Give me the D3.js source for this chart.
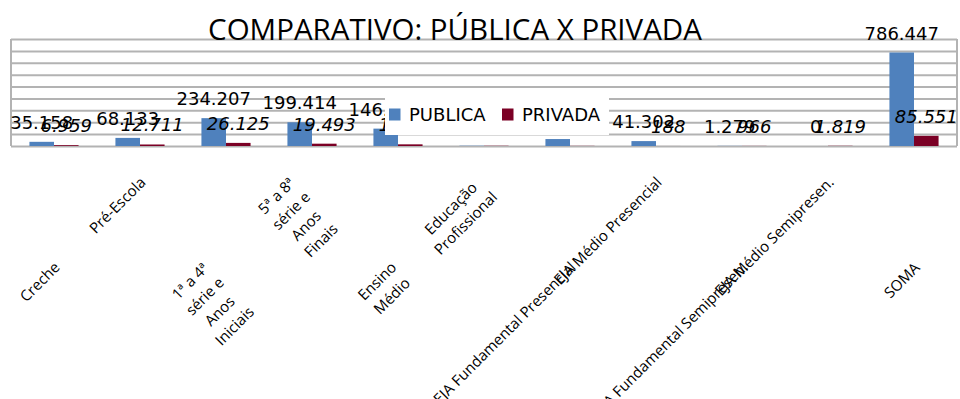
<!DOCTYPE html>
<html>
<head>
<meta charset="utf-8">
<title>Comparativo: Pública x Privada</title>
<script src="https://cdn.jsdelivr.net/npm/d3@7"></script>
<style>
	body { margin: 0; background: #fff; }
	svg { display: block; }
	.grid line { stroke: #b3b3b3; stroke-width: 2; }
	.grid .domain { display: none; }
	.value { font-family: "DejaVu Sans", sans-serif; font-size: 18px; fill: #000; }
	.value.privada { font-style: italic; }
	.cat { font-family: "Open Sans", sans-serif; font-size: 15px; fill: #000; }
	.title { font-family: "Open Sans", sans-serif; font-size: 29.5px; fill: #000; }
	.legend text { font-family: "DejaVu Sans", sans-serif; font-size: 18px; fill: #000; }
</style>
</head>
<body>
<svg width="960" height="399"></svg>
<script>
// Categories (line breaks as they were typed in the sheet cells)
const categories = [
	"Creche",
	"Pré-Escola",
	"1ª a 4ª\nsérie e\nAnos\nIniciais",
	"5ª a 8ª\nsérie e\nAnos\nFinais",
	"Ensino\nMédio",
	"Educação\nProfissional",
	"EJA Fundamental Presencial",
	"EJA Médio Presencial",
	"EJA Fundamental Semipresen.",
	"EJA Médio Semipresen.",
	"SOMA"
];
const seriesNames = ["PUBLICA", "PRIVADA"];
const publica = [35158, 68133, 234207, 199414, 146112, 2350, 58492, 41302, 1279, 0, 786447];
const privada = [6959, 12711, 26125, 19493, 13950, 2061, 1279, 188, 966, 1819, 85551];
const yTicks = [0, 100000, 200000, 300000, 400000, 500000, 600000, 700000, 800000, 900000];
const colors = ["#4f81bd", "#7b0025"];

document.addEventListener("DOMContentLoaded", function() {
	renderChart();
});

function renderChart() {
	const svg = d3.select("svg");
	const plot = { left: 11, right: 957, top: 39, bottom: 146 };

	// pt-BR number format: 786.447
	const locale = d3.formatLocale({ decimal: ",", thousands: ".", grouping: [3], currency: ["", ""] });
	const fmt = locale.format(",d");

	const rows = categories.map((c, i) => ({ cat: c, values: [publica[i], privada[i]] }));

	const x0 = d3.scaleBand()
				 .domain(categories)
				 .range([plot.left, plot.right]);

	// gap width 150% -> two bars of ~25px in the middle of each 86px band
	const gap = x0.bandwidth() * 1.5 / 3.5 / 2;
	const x1 = d3.scaleBand()
				 .domain(seriesNames)
				 .range([gap, x0.bandwidth() - gap]);

	const y = d3.scaleLinear()
				.domain([0, d3.max(yTicks)])
				.range([plot.bottom, plot.top]);

	// horizontal gridlines, no tick labels
	svg.append("g")
	   .attr("class", "grid")
	   .attr("transform", `translate(${plot.left}, 0)`)
	   .call(d3.axisLeft(y).tickValues(yTicks).tickSize(-(plot.right - plot.left)).tickFormat(""));

	// plot border (left / right)
	svg.append("g").attr("class", "grid")
	   .selectAll("line")
	   .data([plot.left, plot.right])
	   .enter().append("line")
	   .attr("x1", d => d).attr("x2", d => d)
	   .attr("y1", plot.top).attr("y2", plot.bottom);

	svg.append("text")
	   .attr("class", "title")
	   .attr("x", 455)
	   .attr("y", 40)
	   .attr("text-anchor", "middle")
	   .text("COMPARATIVO: PÚBLICA X PRIVADA");

	const groups = svg.append("g")
					  .selectAll("g")
					  .data(rows)
					  .enter()
					  .append("g")
					  .attr("transform", d => `translate(${x0(d.cat)}, 0)`);

	groups.selectAll("rect")
		  .data(d => d.values.map((v, k) => ({ key: seriesNames[k], value: v, k: k })))
		  .enter()
		  .append("rect")
		  .attr("x", d => x1(d.key))
		  .attr("y", d => y(d.value))
		  .attr("width", x1.bandwidth())
		  .attr("height", d => plot.bottom - y(d.value))
		  .attr("fill", d => colors[d.k]);

	// data labels: all PUBLICA first, then PRIVADA on top
	seriesNames.forEach((name, k) => {
		svg.append("g")
		   .selectAll("text")
		   .data(rows)
		   .enter()
		   .append("text")
		   .attr("class", "value " + name.toLowerCase())
		   .attr("text-anchor", "middle")
		   .attr("x", d => x0(d.cat) + x1(name) + x1.bandwidth() / 2)
		   .attr("y", d => y(d.values[k]) - 13)
		   .text(d => fmt(d.values[k]));
	});

	renderCategoryLabels(svg, x0);
	renderLegend(svg);
}

/**
 * Rotated (-45deg) category labels, staggered on two rows like Excel does
 * when they do not fit. The right-middle of each text block sits on the band centre.
 */
function renderCategoryLabels(svg, x0) {
	const rowTops = [257, 172];
	const lineHeight = 21;

	categories.forEach((cat, i) => {
		const lines = cat.split("\n");
		const outer = svg.append("g");
		const inner = outer.append("g").attr("transform", "rotate(-45)");

		const texts = lines.map((line, j) => inner.append("text")
			.attr("class", "cat")
			.attr("text-anchor", "middle")
			.attr("y", (j - (lines.length - 1) / 2) * lineHeight)
			.attr("dy", "0.35em")
			.text(line));

		const w = d3.max(texts, t => t.node().getComputedTextLength());
		texts.forEach(t => t.attr("x", -w / 2));

		const cx = x0(cat) + x0.bandwidth() / 2 + 3;
		outer.attr("transform", `translate(${cx}, 0)`);
		const box = outer.node().getBBox();
		outer.attr("transform", `translate(${cx}, ${rowTops[i % 2] - box.y})`);
	});
}

function renderLegend(svg) {
	const legend = svg.append("g").attr("class", "legend");
	legend.append("rect")
		  .attr("x", 385).attr("y", 97)
		  .attr("width", 224).attr("height", 38)
		  .attr("fill", "#fff");

	const offsets = [389, 502];
	seriesNames.forEach((name, k) => {
		legend.append("rect")
			  .attr("x", offsets[k]).attr("y", 108.5)
			  .attr("width", 11.5).attr("height", 12)
			  .attr("fill", colors[k]);
		legend.append("text")
			  .attr("x", offsets[k] + 20)
			  .attr("y", 121)
			  .text(name);
	});
}
</script>
</body>
</html>
